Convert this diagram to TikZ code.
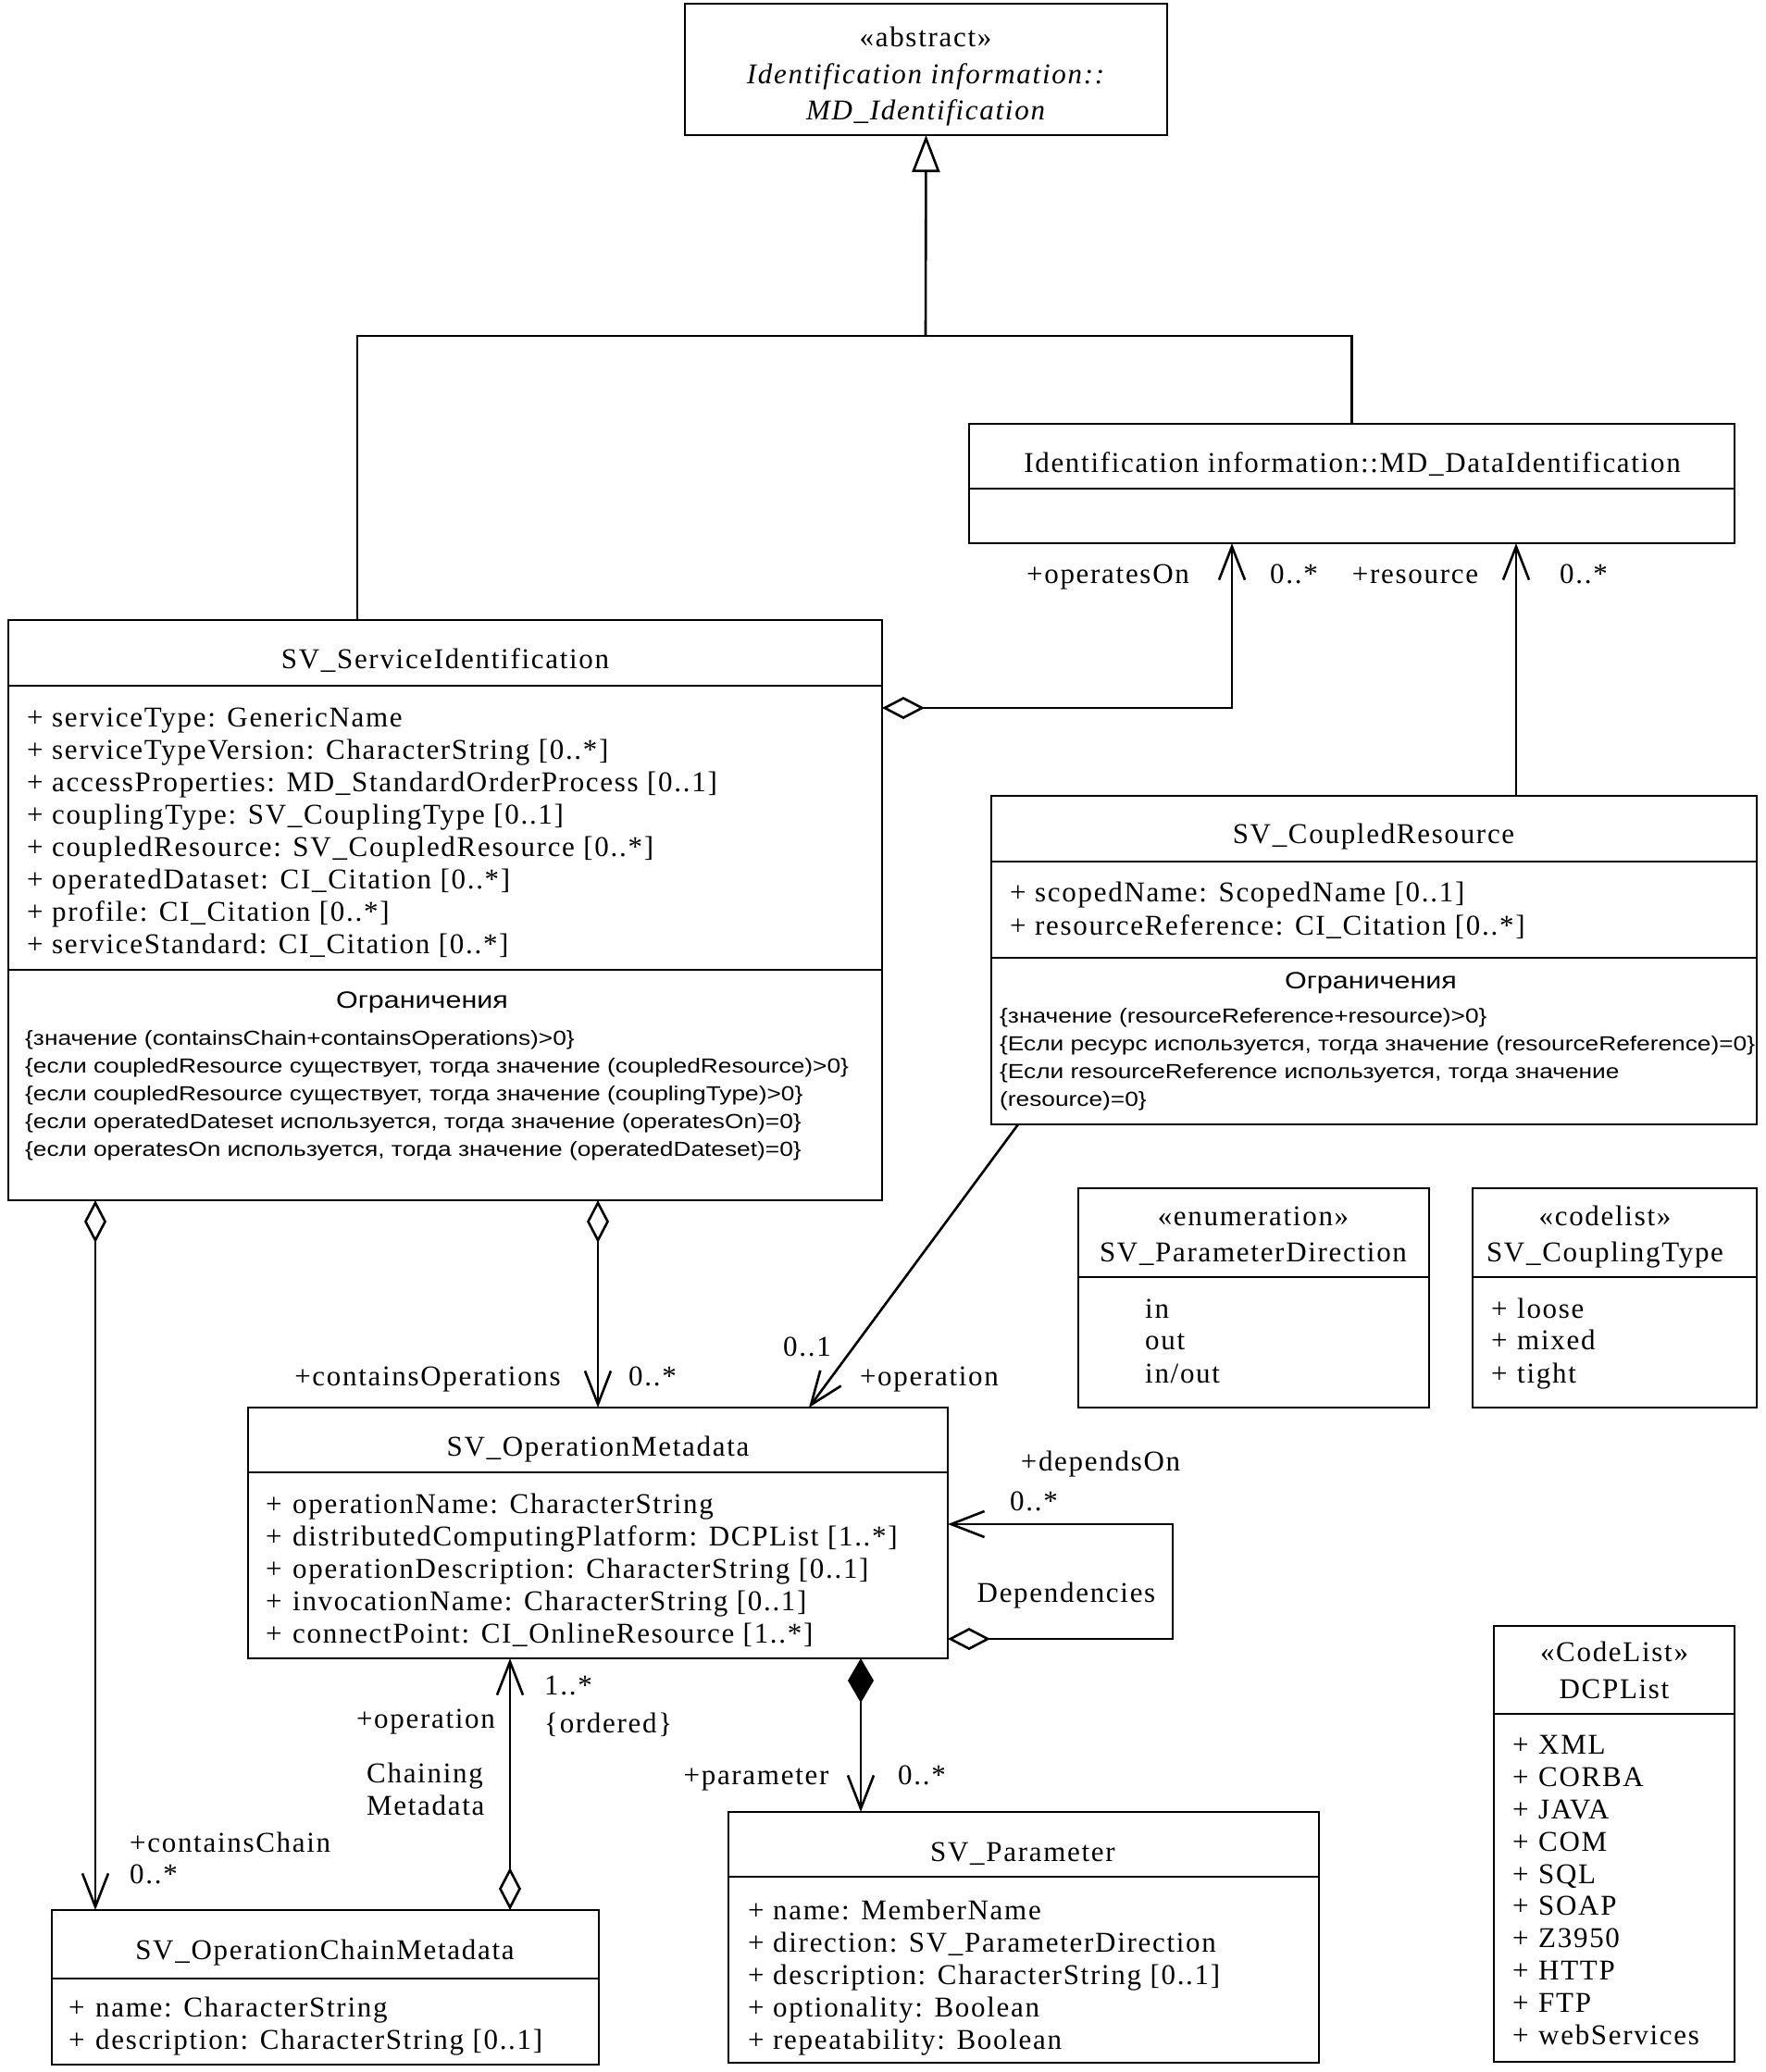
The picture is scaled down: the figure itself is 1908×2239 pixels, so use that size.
\documentclass[tikz,border=0pt]{standalone}
\usepackage{fontspec}
\setmainfont{Liberation Serif}[LetterSpace=5.5]
\newfontfamily\consfont{Liberation Sans}[FakeStretch=1.195]
\usetikzlibrary{arrows.meta}
\tikzset{
  box/.style={draw, rectangle, line width=2.8pt, inner sep=0pt, outer sep=0pt, anchor=north west},
  sepl/.style={line width=2.8pt},
  lnk/.style={line width=2.6pt},
  txt/.style={inner sep=0pt, font=\fontsize{31}{35}\selectfont, text height=24pt, text depth=6pt},
  cons/.style={inner sep=0pt, font=\consfont\fontsize{22}{26}\selectfont, text height=18pt, text depth=4pt, anchor=west},
  conshead/.style={cons, anchor=center, font=\consfont\fontsize{25.5}{30}\selectfont},
  att/.style={txt, anchor=west},
  barb/.tip={Straight Barb[length=36pt, width=28pt]},
  odia/.tip={Diamond[open, length=46pt, width=24pt]},
  fdia/.tip={Diamond[length=48pt, width=28pt]},
  gtri/.tip={Triangle[open, length=40pt, width=30pt]},
}
\newcommand{\pl}{\makebox[27pt][l]{+}}
\begin{document}
\begin{tikzpicture}[x=1pt, y=-1pt]
\path[use as bounding box, fill=white] (0,0) rectangle (1908,2239);

% ---------- abstract MD_Identification
\node[box, minimum width=521pt, minimum height=142pt] (abs) at (740,4) {};
\node[txt] (abs1) at (1000,41) {«abstract»};
\node[txt] (abs2) at (1000,81) {\itshape Identification information::};
\node[txt] (abs3) at (1000,120) {\itshape MD\_Identification};

% ---------- MD_DataIdentification
\node[box, minimum width=827pt, minimum height=129pt] (mdd) at (1047,458) {};
\draw[sepl] (1047,528) -- (1874,528);
\node[txt] (mddt) at (1461,501) {Identification information::MD\_DataIdentification};

% ---------- SV_ServiceIdentification
\node[box, minimum width=944pt, minimum height=627pt] (svc) at (9,670) {};
\draw[sepl] (9,741) -- (953,741);
\draw[sepl] (9,1048) -- (953,1048);
\node[txt] (svct) at (481,713) {SV\_ServiceIdentification};
\node[att] (svca1) at (29,776) {\pl serviceType: GenericName};
\node[att] (svca2) at (29,811) {\pl serviceTypeVersion: CharacterString [0..*]};
\node[att] (svca3) at (29,846) {\pl accessProperties: MD\_StandardOrderProcess [0..1]};
\node[att] (svca4) at (29,881) {\pl couplingType: SV\_CouplingType [0..1]};
\node[att] (svca5) at (29,916) {\pl coupledResource: SV\_CoupledResource [0..*]};
\node[att] (svca6) at (29,951) {\pl operatedDataset: CI\_Citation [0..*]};
\node[att] (svca7) at (29,986) {\pl profile: CI\_Citation [0..*]};
\node[att] (svca8) at (29,1021) {\pl serviceStandard: CI\_Citation [0..*]};
\node[conshead] (svch) at (456,1082) {Ограничения};
\node[cons] (svcc1) at (27,1122) {\{значение (containsChain+containsOperations)>0\}};
\node[cons] (svcc2) at (27,1152) {\{если coupledResource существует, тогда значение (coupledResource)>0\}};
\node[cons] (svcc3) at (27,1182) {\{если coupledResource существует, тогда значение (couplingType)>0\}};
\node[cons] (svcc4) at (27,1212) {\{если operatedDateset используется, тогда значение (operatesOn)=0\}};
\node[cons] (svcc5) at (27,1242) {\{если operatesOn используется, тогда значение (operatedDateset)=0\}};

% ---------- SV_CoupledResource
\node[box, minimum width=827pt, minimum height=355pt] (cres) at (1071,860) {};
\draw[sepl] (1071,931) -- (1898,931);
\draw[sepl] (1071,1035) -- (1898,1035);
\node[txt] (crest) at (1484,902) {SV\_CoupledResource};
\node[att] (cresa1) at (1091,965) {\pl scopedName: ScopedName [0..1]};
\node[att] (cresa2) at (1091,1001) {\pl resourceReference: CI\_Citation [0..*]};
\node[conshead] (cresh) at (1481,1061) {Ограничения};
\node[cons] (cresc1) at (1080,1098) {\{значение (resourceReference+resource)>0\}};
\node[cons] (cresc2) at (1080,1128) {\{Если ресурс используется, тогда значение (resourceReference)=0\}};
\node[cons] (cresc3) at (1080,1158) {\{Если resourceReference используется, тогда значение};
\node[cons] (cresc4) at (1080,1188) {(resource)=0\}};

% ---------- SV_ParameterDirection
\node[box, minimum width=379pt, minimum height=237pt] (pdir) at (1165,1284) {};
\draw[sepl] (1165,1380) -- (1544,1380);
\node[txt] (pdirs) at (1354,1315) {«enumeration»};
\node[txt] (pdirt) at (1354,1354) {SV\_ParameterDirection};
\node[att] (pdira1) at (1237,1415) {in};
\node[att] (pdira2) at (1237,1449) {out};
\node[att] (pdira3) at (1237,1485) {in/out};

% ---------- SV_CouplingType
\node[box, minimum width=307pt, minimum height=237pt] (ctyp) at (1591,1284) {};
\draw[sepl] (1591,1380) -- (1898,1380);
\node[txt] (ctyps) at (1734,1315) {«codelist»};
\node[txt] (ctypt) at (1734,1354) {SV\_CouplingType};
\node[att] (ctypa1) at (1611,1415) {\makebox[28pt][l]{+}loose};
\node[att] (ctypa2) at (1611,1449) {\makebox[28pt][l]{+}mixed};
\node[att] (ctypa3) at (1611,1485) {\makebox[28pt][l]{+}tight};

% ---------- DCPList
\node[box, minimum width=260pt, minimum height=471pt] (dcp) at (1614,1757) {};
\draw[sepl] (1614,1852) -- (1874,1852);
\node[txt] (dcps) at (1744,1786) {«CodeList»};
\node[txt] (dcpt) at (1744,1826) {DCPList};
\node[att] (dcpa1) at (1634,1886) {\makebox[28pt][l]{+}XML};
\node[att] (dcpa2) at (1634,1921) {\makebox[28pt][l]{+}CORBA};
\node[att] (dcpa3) at (1634,1956) {\makebox[28pt][l]{+}JAVA};
\node[att] (dcpa4) at (1634,1991) {\makebox[28pt][l]{+}COM};
\node[att] (dcpa5) at (1634,2026) {\makebox[28pt][l]{+}SQL};
\node[att] (dcpa6) at (1634,2060) {\makebox[28pt][l]{+}SOAP};
\node[att] (dcpa7) at (1634,2095) {\makebox[28pt][l]{+}Z3950};
\node[att] (dcpa8) at (1634,2130) {\makebox[28pt][l]{+}HTTP};
\node[att] (dcpa9) at (1634,2165) {\makebox[28pt][l]{+}FTP};
\node[att] (dcpa10) at (1634,2200) {\makebox[28pt][l]{+}webServices};

% ---------- SV_OperationMetadata
\node[box, minimum width=756pt, minimum height=271pt] (opm) at (268,1521) {};
\draw[sepl] (268,1591) -- (1024,1591);
\node[txt] (opmt) at (646,1564) {SV\_OperationMetadata};
\node[att] (opma1) at (287,1626) {\makebox[29pt][l]{+}operationName: CharacterString};
\node[att] (opma2) at (287,1661) {\makebox[29pt][l]{+}distributedComputingPlatform: DCPList [1..*]};
\node[att] (opma3) at (287,1696) {\makebox[29pt][l]{+}operationDescription: CharacterString [0..1]};
\node[att] (opma4) at (287,1731) {\makebox[29pt][l]{+}invocationName: CharacterString [0..1]};
\node[att] (opma5) at (287,1766) {\makebox[29pt][l]{+}connectPoint: CI\_OnlineResource [1..*]};

% ---------- SV_OperationChainMetadata
\node[box, minimum width=591pt, minimum height=167pt] (chn) at (56,2064) {};
\draw[sepl] (56,2138) -- (647,2138);
\node[txt] (chnt) at (351,2108) {SV\_OperationChainMetadata};
\node[att] (chna1) at (74,2170) {\makebox[29pt][l]{+}name: CharacterString};
\node[att] (chna2) at (74,2205) {\makebox[29pt][l]{+}description: CharacterString [0..1]};

% ---------- SV_Parameter
\node[box, minimum width=638pt, minimum height=271pt] (par) at (787,1958) {};
\draw[sepl] (787,2028) -- (1425,2028);
\node[txt] (part) at (1105,2002) {SV\_Parameter};
\node[att] (para1) at (808,2065) {\makebox[27pt][l]{+}name: MemberName};
\node[att] (para2) at (808,2100) {\makebox[27pt][l]{+}direction: SV\_ParameterDirection};
\node[att] (para3) at (808,2135) {\makebox[27pt][l]{+}description: CharacterString [0..1]};
\node[att] (para4) at (808,2170) {\makebox[27pt][l]{+}optionality: Boolean};
\node[att] (para5) at (808,2205) {\makebox[27pt][l]{+}repeatability: Boolean};

% ---------- connectors
\coordinate (gj) at (1000,363);
\draw[lnk] ([xshift=377pt]svc.north west) |- (gj) -| (mdd.north);
\draw[lnk, -{gtri}] (gj) -- (abs.south);

\draw[lnk, {odia}-{barb}] ([yshift=-95pt]svc.north east) -| ([xshift=284pt]mdd.south west);
\draw[lnk, -{barb}] ([xshift=567pt]cres.north west) -- ([xshift=567pt]cres.north west |- mdd.south);

\draw[lnk, {odia}-{barb}] (opm.north |- svc.south) -- (opm.north);
\draw[lnk, {odia}-{barb}] ([xshift=47pt]chn.north west |- svc.south) -- ([xshift=47pt]chn.north west);
\draw[lnk, -{barb}] ([xshift=29pt]cres.south west) -- ([xshift=606pt]opm.north west);
\draw[lnk, {odia}-{barb}] ([yshift=21pt]opm.south east) -- ++(243pt,0pt) |- ([yshift=-126pt]opm.north east);
\draw[lnk, {odia}-{barb}] ([xshift=495pt]chn.north west) -- ([xshift=495pt]chn.north west |- opm.south);
\draw[lnk, {fdia}-{barb}] ([xshift=662pt]opm.south west) -- ([xshift=662pt]opm.south west |- par.north);

% ---------- connector labels
\node[txt] (l1) at (1197,621) {+operatesOn};
\node[txt] (l2) at (1398,621) {0..*};
\node[txt] (l3) at (1529,621) {+resource};
\node[txt] (l4) at (1711,621) {0..*};
\node[txt] (l5) at (462,1488) {+containsOperations};
\node[txt] (l6) at (705,1488) {0..*};
\node[txt] (l7) at (872,1456) {0..1};
\node[txt] (l8) at (1004,1488) {+operation};
\node[txt] (l9) at (1189,1580) {+dependsOn};
\node[txt] (l10) at (1117,1623) {0..*};
\node[txt] (l11) at (1152,1722) {Dependencies};
\node[att] (l12) at (140,1992) {+containsChain};
\node[att] (l13) at (140,2026) {0..*};
\node[txt] (l14) at (460,1858) {+operation};
\node[att] (l15) at (396,1917) {Chaining};
\node[att] (l16) at (396,1952) {Metadata};
\node[att] (l17) at (588,1822) {1..*};
\node[att] (l18) at (588,1863) {\{ordered\}};
\node[txt] (l19) at (817,1919) {+parameter};
\node[txt] (l20) at (996,1919) {0..*};
\end{tikzpicture}
\end{document}
